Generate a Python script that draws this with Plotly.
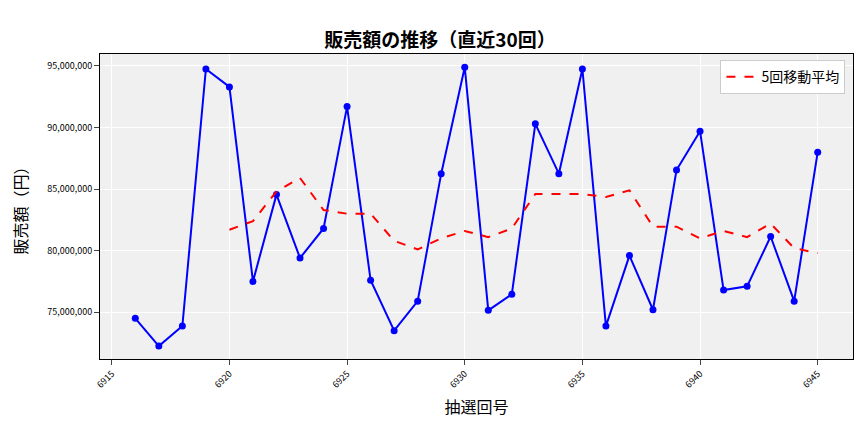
import plotly.graph_objects as go

draws = list(range(6916, 6946))
sales = [74.5, 72.25, 73.87, 94.75, 93.3, 77.5, 84.55, 79.4, 81.8, 91.7,
         77.6, 73.5, 75.9, 86.25, 94.9, 75.15, 76.45, 90.3, 86.25, 94.75,
         73.87, 79.6, 75.2, 86.55, 89.7, 76.8, 77.1, 81.15, 75.9, 88.0]
ma_draws = list(range(6920, 6946))
ma5 = [81.7, 82.4, 84.8, 85.9, 83.3, 83.0, 83.0, 80.8, 80.1, 81.0,
       81.6, 81.1, 81.8, 84.6, 84.6, 84.6, 84.35, 84.9, 81.95, 81.95,
       81.0, 81.6, 81.1, 82.2, 80.2, 79.8]

font = "Noto Sans CJK JP"
fig = go.Figure()
fig.add_trace(go.Scatter(x=draws, y=[v * 1e6 for v in sales], mode="lines+markers",
                         line=dict(color="blue", width=2), marker=dict(size=7, color="blue"),
                         showlegend=False))
fig.add_trace(go.Scatter(x=ma_draws, y=[v * 1e6 for v in ma5], mode="lines", name="5回移動平均",
                         line=dict(color="red", width=2, dash="dash")))
fig.update_layout(
    width=864, height=432, paper_bgcolor="white", plot_bgcolor="#f0f0f0",
    font=dict(family=font, color="black"),
    title=dict(text="<b>販売額の推移（直近30回）</b>", x=0.5, y=0.94, font=dict(size=19)),
    margin=dict(l=92, r=19, t=46, b=81),
    legend=dict(x=0.99, y=0.98, xanchor="right", yanchor="top", bgcolor="white",
                bordercolor="#ccc", borderwidth=1, font=dict(size=14)),
)
fig.update_xaxes(title=dict(text="抽選回号", font=dict(size=16), standoff=12), range=[6914.5, 6946.5],
                 tickvals=list(range(6915, 6946, 5)), tickangle=-45, tickfont=dict(size=9),
                 gridcolor="white", showline=True, linecolor="black", mirror=True,
                 ticks="outside", zeroline=False)
fig.update_yaxes(title=dict(text="販売額（円）", font=dict(size=16)), range=[71.2e6, 95.97e6],
                 tickvals=[75e6, 80e6, 85e6, 90e6, 95e6], tickformat=",d", tickfont=dict(size=9),
                 gridcolor="white", showline=True, linecolor="black", mirror=True,
                 ticks="outside", zeroline=False)
fig.write_html("out.html")
